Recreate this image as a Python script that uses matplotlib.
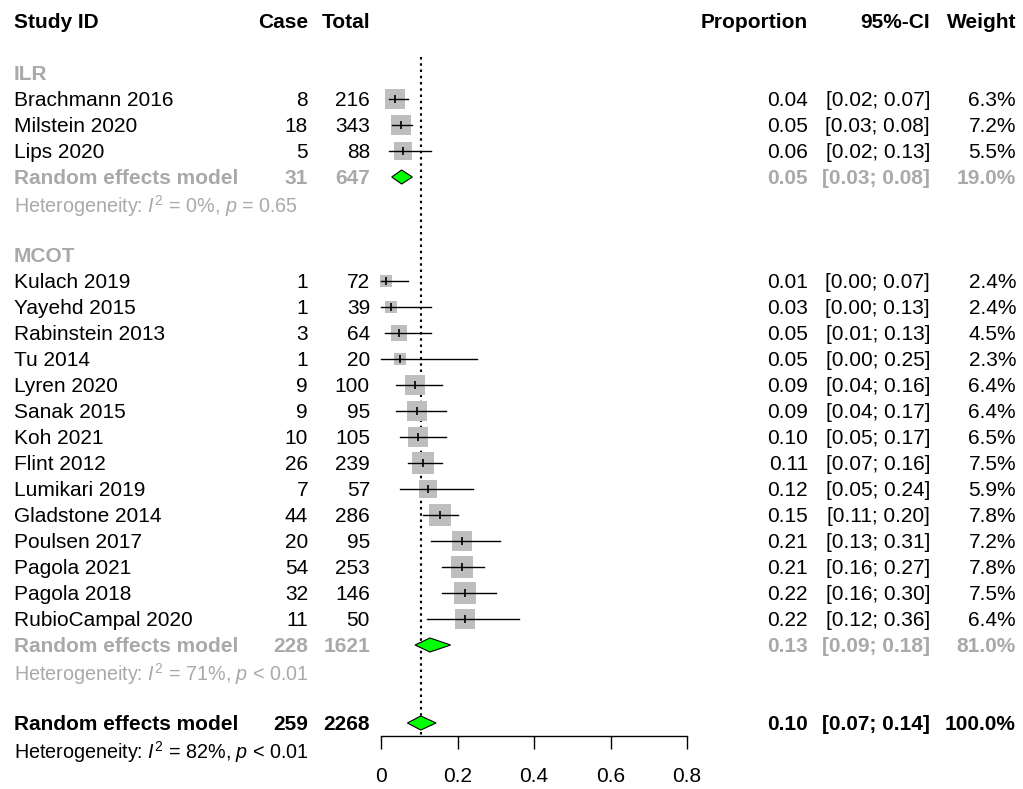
import numpy as np
import matplotlib.pyplot as plt
import matplotlib.transforms as mtransforms
from matplotlib.patches import Polygon

plt.rcParams['font.family'] = ['Liberation Sans', 'DejaVu Sans']
plt.rcParams['mathtext.fontset'] = 'custom'
plt.rcParams['mathtext.rm'] = 'Liberation Sans'
plt.rcParams['mathtext.it'] = 'Liberation Sans:italic'

# ── Data ───────────────────────────────────────────────────
group_labels = ["ILR", "MCOT"]

ilr_names  = ["Brachmann 2016", "Milstein 2020", "Lips 2020"]
ilr_case   = [8, 18, 5]
ilr_total  = [216, 343, 88]
ilr_prop   = [0.037, 0.052, 0.057]
ilr_lo     = [0.02, 0.03, 0.02]
ilr_hi     = [0.07, 0.08, 0.13]
ilr_weight = [6.3, 7.2, 5.5]

mcot_names  = ["Kulach 2019", "Yayehd 2015", "Rabinstein 2013", "Tu 2014",
               "Lyren 2020", "Sanak 2015", "Koh 2021", "Flint 2012",
               "Lumikari 2019", "Gladstone 2014", "Poulsen 2017",
               "Pagola 2021", "Pagola 2018", "RubioCampal 2020"]
mcot_case   = [1, 1, 3, 1, 9, 9, 10, 26, 7, 44, 20, 54, 32, 11]
mcot_total  = [72, 39, 64, 20, 100, 95, 105, 239, 57, 286, 95, 253, 146, 50]
mcot_prop   = [0.014, 0.026, 0.047, 0.050, 0.090, 0.094, 0.096, 0.109,
               0.123, 0.154, 0.211, 0.213, 0.219, 0.220]
mcot_lo     = [0.00, 0.00, 0.01, 0.00, 0.04, 0.04, 0.05, 0.07,
               0.05, 0.11, 0.13, 0.16, 0.16, 0.12]
mcot_hi     = [0.07, 0.13, 0.13, 0.25, 0.16, 0.17, 0.17, 0.16,
               0.24, 0.20, 0.31, 0.27, 0.30, 0.36]
mcot_weight = [2.4, 2.4, 4.5, 2.3, 6.4, 6.4, 6.5, 7.5,
               5.9, 7.8, 7.2, 7.8, 7.5, 6.4]

# pooled random effects: ILR, MCOT, overall
re_case   = [31, 228, 259]
re_total  = [647, 1621, 2268]
re_prop   = [0.054, 0.128, 0.104]
re_lo     = [0.028, 0.089, 0.069]
re_hi     = [0.082, 0.182, 0.144]
re_weight = [19.0, 81.0, 100.0]
het_i2    = [0, 71, 82]
het_p     = ["= 0.65", "< 0.01", "< 0.01"]

xticks      = [0, 0.2, 0.4, 0.6, 0.8]
xticklabels = ["0", "0.2", "0.4", "0.6", "0.8"]

groups = [
    (ilr_names, ilr_case, ilr_total, ilr_prop, ilr_lo, ilr_hi, ilr_weight),
    (mcot_names, mcot_case, mcot_total, mcot_prop, mcot_lo, mcot_hi, mcot_weight),
]

# ── Styles ─────────────────────────────────────────────────
GREY   = '#A9A9A9'
BOX    = '#BEBEBE'
GREEN  = '#00FF00'
FS     = 15
FS_HET = 14.2

W, H = 1023, 789
fig = plt.figure(figsize=(W / 100, H / 100), dpi=100)
fig.patch.set_facecolor('white')

row0_px, row_px = 21, 26
ax = fig.add_axes([381 / W, 0, 306 / W, 1])
ax.set_xlim(0, 0.8)
ax.set_ylim((H - row0_px) / row_px, -row0_px / row_px)
ax.patch.set_alpha(0)

tr = mtransforms.blended_transform_factory(fig.transFigure, ax.transData)
col_x = {'study': 14 / W, 'case': 308 / W, 'total': 370 / W,
         'prop': 808 / W, 'ci': 930 / W, 'weight': 1016 / W}


def put(col, y, s, ha='right', color='black', weight='normal', size=FS):
    ax.text(col_x[col], y, s, transform=tr, ha=ha, va='center_baseline',
            color=color, fontweight=weight, fontsize=size, clip_on=False)


def row_numbers(y, case, total, p, lo, hi, w, color='black', weight='normal'):
    put('case', y, f"{case}", color=color, weight=weight)
    put('total', y, f"{total}", color=color, weight=weight)
    put('prop', y, f"{p:.2f}", color=color, weight=weight)
    put('ci', y, f"[{lo:.2f}; {hi:.2f}]", color=color, weight=weight)
    put('weight', y, f"{w:.1f}%", color=color, weight=weight)


def diamond(y, p, lo, hi):
    h = 0.27
    ax.add_patch(Polygon([[lo, y], [p, y - h], [hi, y], [p, y + h]],
                         closed=True, facecolor=GREEN, edgecolor='black',
                         lw=0.8, zorder=4, clip_on=False))


def het_text(y, i2, ptxt, color):
    put('study', y, f"Heterogeneity: $I^2$ = {i2}%, $p$ {ptxt}", ha='left',
        color=color, size=FS_HET)


# header
put('study', 0, "Study ID", ha='left', weight='bold')
put('case', 0, "Case", weight='bold')
put('total', 0, "Total", weight='bold')
put('prop', 0, "Proportion", weight='bold')
put('ci', 0, "95%-CI", weight='bold')
put('weight', 0, "Weight", weight='bold')

row = 2
for g, (names, case, total, prop, lo, hi, wt) in enumerate(groups):
    put('study', row, group_labels[g], ha='left', color=GREY, weight='bold')
    row += 1
    for i in range(len(names)):
        put('study', row, names[i], ha='left')
        row_numbers(row, case[i], total[i], prop[i], lo[i], hi[i], wt[i])
        side = 0.72 * 7.75 * np.sqrt(wt[i])
        ax.plot(prop[i], row, marker='s', ms=side, color=BOX,
                markeredgewidth=0, zorder=2, clip_on=False)
        ax.plot([lo[i], hi[i]], [row, row], color='black', lw=1.0,
                zorder=3, clip_on=False)
        ax.plot(prop[i], row, marker='|', ms=5.5, mew=1.2, color='black',
                zorder=3, clip_on=False)
        row += 1
    put('study', row, "Random effects model", ha='left', color=GREY, weight='bold')
    row_numbers(row, re_case[g], re_total[g], re_prop[g], re_lo[g], re_hi[g],
                re_weight[g], color=GREY, weight='bold')
    diamond(row, re_prop[g], re_lo[g], re_hi[g])
    row += 1
    het_text(row, het_i2[g], het_p[g], GREY)
    row += 2

# overall
put('study', row, "Random effects model", ha='left', weight='bold')
row_numbers(row, re_case[2], re_total[2], re_prop[2], re_lo[2], re_hi[2],
            re_weight[2], weight='bold')
diamond(row, re_prop[2], re_lo[2], re_hi[2])
axis_y = row + 0.5
het_text(row + 1, het_i2[2], het_p[2], 'black')

# reference line at the pooled estimate
ax.plot([re_prop[2], re_prop[2]], [1.4, axis_y], color='black', lw=1.5,
        ls=(0, (1.2, 1.8)), zorder=1, clip_on=False)

# x axis
for s in ['top', 'left', 'right']:
    ax.spines[s].set_visible(False)
ax.spines['bottom'].set_position(('data', axis_y))
ax.spines['bottom'].set_bounds(0, 0.8)
ax.spines['bottom'].set_linewidth(1.0)
ax.set_yticks([])
ax.set_xticks(xticks)
ax.set_xticklabels(xticklabels)
ax.tick_params(axis='x', direction='out', length=9, width=1.0,
               labelsize=FS, pad=13)

fig.savefig('out.png', dpi=100)
